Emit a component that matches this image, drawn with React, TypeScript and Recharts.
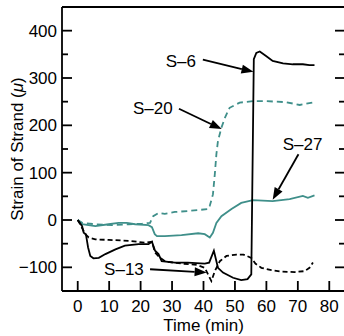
import React from 'react';
import {
  LineChart,
  Line,
  XAxis,
  YAxis,
  ReferenceLine,
  ReferenceDot,
} from 'recharts';

const FONT = '"Liberation Sans", Arial, Helvetica, sans-serif';
const FONT_SIZE = 17;
const TEAL = '#3f8f8a';

// axis ticks
const xTicks = [0, 10, 20, 30, 40, 50, 60, 70, 80];
const yTicks = [-100, -50, 0, 50, 100, 150, 200, 250, 300, 350, 400];
const yLabelled = [-100, 0, 100, 200, 300, 400];

// [time (min), strain (μ)]
const s6 = [
  [0, 0], [1.4, -13], [1.9, -27], [2.6, -30], [3.3, -58], [4, -76], [5, -81],
  [6.7, -80], [8.8, -72], [12, -62], [15, -54], [19.4, -51], [22.5, -51],
  [23.6, -46], [24.6, -65], [25.7, -72], [26.7, -87], [30.9, -90], [35, -90],
  [40.4, -92], [41.8, -90], [43.3, -65], [44.6, -101], [46.2, -111], [49.4, -122],
  [52, -127], [54, -125], [55.2, -115], [56, 340], [56.8, 353], [57.9, 356],
  [60, 346], [62, 336], [65.3, 331], [68.4, 329], [71.6, 329], [73.7, 327],
  [75.3, 327],
];

const s13 = [
  [0, 0], [0.8, -9], [1.6, -20], [2.4, -30], [3.5, -37], [5.6, -41], [9.8, -42],
  [16.2, -44], [21.5, -48], [23.6, -46], [24.6, -69], [26.2, -80], [28, -88],
  [33, -92], [38, -95], [40.4, -101], [42.5, -129], [43.6, -108], [45.2, -87],
  [47.3, -76], [50.5, -73], [52.7, -73], [55.2, -80], [56.5, -92], [58.4, -101],
  [61.6, -106], [64.8, -109], [69, -110], [72.2, -108], [73.7, -101], [74.8, -90],
];

const s20 = [
  [0, 0], [1.4, -6], [5.6, -9], [10.9, -11], [16.2, -9], [20.4, -8], [23, -6],
  [24, 8], [25.7, 15], [27.7, 13], [30.9, 17], [35, 19], [41.5, 23], [42, 30],
  [43, 54], [43.6, 97], [44.1, 139], [44.6, 167], [45.7, 195], [46.8, 216],
  [48.3, 237], [51.5, 248], [55.7, 251], [60, 251], [66.3, 249], [70.6, 243],
  [75.3, 249],
];

const s27 = [
  [0, 0], [1.4, -9], [5.6, -13], [9.8, -9], [13, -6], [15.6, -6], [18.3, -9],
  [22.5, -11], [23.6, -15], [24.5, -30], [25.2, -34], [27.7, -34], [33, -32],
  [38.3, -28], [40.4, -30], [42, -37], [43, -27], [44.1, -6], [45.7, 8],
  [48.9, 23], [52, 36], [55.7, 42], [62, 40], [67.4, 44], [71.6, 51],
  [73.2, 47], [75.3, 52],
];

// labels with arrows, in data units
const notes = [
  { text: 'S\u20136', at: [32.8, 336], from: [39.8, 339], to: [55.9, 313] },
  { text: 'S\u201320', at: [23.9, 236], from: [32.2, 235], to: [45.8, 192] },
  { text: 'S\u201327', at: [71.5, 161], from: [70.2, 139], to: [62, 43] },
  { text: 'S\u201313', at: [14.7, -104], from: [23, -104], to: [41, -111] },
];

const toPoints = (rows: number[][]) => rows.map(([t, v]) => ({ t, v }));

const LeftTick = (props: any) => {
  const { x, y, payload } = props;
  const major = payload.value % 100 === 0;
  return (
    <g>
      <line x1={x} y1={y} x2={x + (major ? 10 : 6)} y2={y} stroke="#000" strokeWidth={1.8} />
      {yLabelled.includes(payload.value) && (
        <text x={x - 5} y={y} dy="0.36em" textAnchor="end" fontFamily={FONT} fontSize={FONT_SIZE} fill="#000">
          {payload.value < 0 ? '\u2212' + Math.abs(payload.value) : payload.value}
        </text>
      )}
    </g>
  );
};

const RightTick = (props: any) => {
  const { x, y, payload } = props;
  const major = payload.value % 100 === 0;
  return <line x1={x} y1={y} x2={x - (major ? 10 : 6)} y2={y} stroke="#000" strokeWidth={1.8} />;
};

const BottomTick = (props: any) => {
  const { x, y, payload } = props;
  return (
    <g>
      <line x1={x} y1={y} x2={x} y2={y - 10} stroke="#000" strokeWidth={1.8} />
      <text x={x} y={y + 9} dy="0.71em" textAnchor="middle" fontFamily={FONT} fontSize={FONT_SIZE} fill="#000">
        {payload.value}
      </text>
    </g>
  );
};

const TopTick = (props: any) => {
  const { x, y } = props;
  return <line x1={x} y1={y} x2={x} y2={y + 10} stroke="#000" strokeWidth={1.8} />;
};

const XTitle = (props: any) => {
  const { viewBox } = props;
  return (
    <text x={viewBox.x + viewBox.width / 2} y={331} textAnchor="middle" fontFamily={FONT} fontSize={FONT_SIZE} fill="#000">
      Time (min)
    </text>
  );
};

const YTitle = (props: any) => {
  const { viewBox } = props;
  const cy = viewBox.y + viewBox.height / 2;
  return (
    <text x={17} y={cy} transform={`rotate(-90, 17, ${cy})`} dy="0.36em" textAnchor="middle" fontFamily={FONT} fontSize={FONT_SIZE} fill="#000">
      Strain of Strand (<tspan fontStyle="italic">{'\u03bc'}</tspan>)
    </text>
  );
};

const Arrow = (props: any) => {
  const { x1, y1, x2, y2 } = props;
  const dx = x2 - x1;
  const dy = y2 - y1;
  const len = Math.sqrt(dx * dx + dy * dy) || 1;
  const ux = dx / len;
  const uy = dy / len;
  const head = 12;
  const half = 4.5;
  const bx = x2 - ux * head;
  const by = y2 - uy * head;
  const pts = `${x2},${y2} ${bx - uy * half},${by + ux * half} ${bx + uy * half},${by - ux * half}`;
  return (
    <g>
      <line x1={x1} y1={y1} x2={bx} y2={by} stroke="#000" strokeWidth={1.8} />
      <polygon points={pts} fill="#000" />
    </g>
  );
};

export default function App() {
  return (
    <div style={{ position: 'absolute', left: 0, top: 0, width: 344, height: 336, overflow: 'hidden', background: '#fff' }}>
      <LineChart width={360} height={336} margin={{ top: 0, right: 0, bottom: 0, left: 0 }}>
        <XAxis
          xAxisId="b"
          dataKey="t"
          type="number"
          domain={[-5, 85]}
          ticks={xTicks}
          interval={0}
          height={45}
          tickSize={0}
          tickMargin={0}
          tickLine={false}
          tick={<BottomTick />}
          axisLine={{ stroke: '#000', strokeWidth: 1.8 }}
          label={<XTitle />}
          allowDataOverflow
        />
        <XAxis
          xAxisId="t"
          orientation="top"
          type="number"
          domain={[-5, 85]}
          ticks={xTicks}
          interval={0}
          height={7}
          tickSize={0}
          tickMargin={0}
          tickLine={false}
          tick={<TopTick />}
          axisLine={{ stroke: '#000', strokeWidth: 1.8 }}
          allowDataOverflow
        />
        <YAxis
          yAxisId="l"
          type="number"
          domain={[-150, 450]}
          ticks={yTicks}
          interval={0}
          width={62}
          tickSize={0}
          tickMargin={0}
          tickLine={false}
          tick={<LeftTick />}
          axisLine={{ stroke: '#000', strokeWidth: 1.8 }}
          label={<YTitle />}
          allowDataOverflow
        />
        <YAxis
          yAxisId="r"
          orientation="right"
          type="number"
          domain={[-150, 450]}
          ticks={yTicks}
          interval={0}
          width={15}
          tickSize={0}
          tickMargin={0}
          tickLine={false}
          tick={<RightTick />}
          axisLine={{ stroke: '#000', strokeWidth: 1.8 }}
          allowDataOverflow
        />
        <Line xAxisId="b" yAxisId="l" data={toPoints(s20)} dataKey="v" type="linear" stroke={TEAL} strokeWidth={1.8} strokeDasharray="6 4" dot={false} isAnimationActive={false} />
        <Line xAxisId="b" yAxisId="l" data={toPoints(s27)} dataKey="v" type="linear" stroke={TEAL} strokeWidth={1.8} dot={false} isAnimationActive={false} />
        <Line xAxisId="b" yAxisId="l" data={toPoints(s13)} dataKey="v" type="linear" stroke="#000" strokeWidth={1.8} strokeDasharray="5 3" dot={false} isAnimationActive={false} />
        <Line xAxisId="b" yAxisId="l" data={toPoints(s6)} dataKey="v" type="linear" stroke="#000" strokeWidth={1.8} dot={false} isAnimationActive={false} />
        {notes.map((n) => (
          <ReferenceLine
            key={'a' + n.text}
            xAxisId="b"
            yAxisId="l"
            segment={[{ x: n.from[0], y: n.from[1] }, { x: n.to[0], y: n.to[1] }]}
            shape={<Arrow />}
          />
        ))}
        {notes.map((n) => (
          <ReferenceDot
            key={'t' + n.text}
            xAxisId="b"
            yAxisId="l"
            x={n.at[0]}
            y={n.at[1]}
            r={0}
            shape={(p: any) => (
              <text x={p.cx} y={p.cy} dy="0.36em" textAnchor="middle" fontFamily={FONT} fontSize={FONT_SIZE} fill="#000">
                {n.text}
              </text>
            )}
          />
        ))}
      </LineChart>
    </div>
  );
}
